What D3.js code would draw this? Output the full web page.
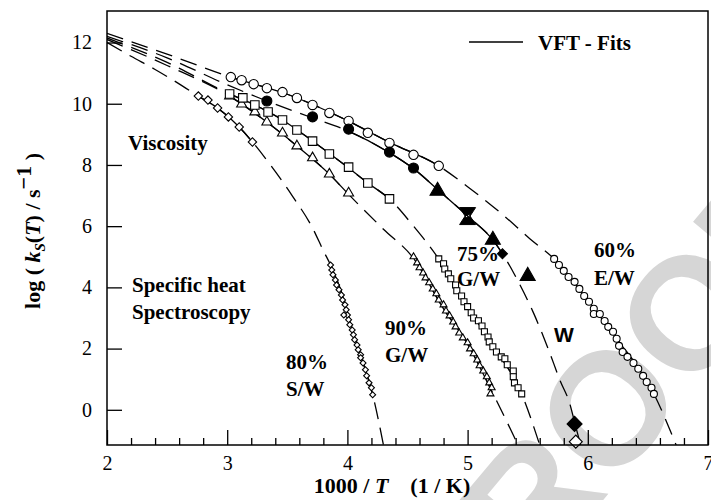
<!DOCTYPE html>
<html>
<head>
<meta charset="utf-8">
<script src="https://cdn.jsdelivr.net/npm/d3@7"></script>
<style>
  body { margin: 0; background: #fff; }
  svg text { font-family: "Liberation Serif", "Times New Roman", serif; fill: #000; }
</style>
</head>
<body>
<div id="chart"></div>
<script>
// ---- data (x = 1000/T, y = log k) ----
var xMajor = [2, 3, 4, 5, 6, 7];
var yMajor = [0, 2, 4, 6, 8, 10, 12];

// 60% E/W, open circles
var visc60 = [[3.03,10.87],[3.12,10.77],[3.22,10.64],[3.33,10.51],[3.46,10.38],[3.58,10.19],[3.71,9.96],[3.85,9.70],[4.01,9.44],[4.17,9.05],[4.35,8.72],[4.55,8.33],[4.76,7.97]];
var spec60 = [[5.72,4.93],[5.76,4.73],[5.80,4.54],[5.84,4.34],[5.89,4.18],[5.93,3.95],[5.97,3.72],[6.01,3.53],[6.05,3.30],[6.05,3.13],[6.10,3.13],[6.14,2.90],[6.17,2.71],[6.21,2.55],[6.24,2.32],[6.26,2.09],[6.29,1.89],[6.33,1.73],[6.38,1.53],[6.42,1.34],[6.46,1.11],[6.49,0.91],[6.53,0.72],[6.55,0.52]];

// water W
var viscW = [[3.33,10.09],[3.71,9.57],[4.01,9.17],[4.35,8.42],[4.55,7.90]];
var triW = [[4.75,7.15],[5.21,5.55],[5.50,4.37]];
var hourW = [[5.00,6.33]];
var diaW = [[5.29,5.10],[5.89,-0.46]];
var openDiaW = [[5.90,-1.04]];

// 75% G/W, open squares
var visc75 = [[3.02,10.32],[3.13,10.19],[3.23,9.96],[3.34,9.73],[3.46,9.47],[3.58,9.14],[3.71,8.78],[3.85,8.36],[4.01,7.93],[4.17,7.41],[4.35,6.89]];
var spec75 = [[4.76,4.93],[4.80,4.77],[4.81,4.60],[4.84,4.44],[4.86,4.28],[4.90,4.08],[4.91,3.89],[4.95,3.72],[4.97,3.53],[5.00,3.37],[5.03,3.17],[5.05,3.00],[5.09,2.91],[5.12,2.74],[5.14,2.55],[5.17,2.38],[5.18,2.22],[5.21,2.06],[5.24,1.89],[5.28,1.73],[5.31,1.67],[5.33,1.47],[5.38,1.27],[5.38,1.08],[5.39,0.88],[5.42,0.72],[5.45,0.52]];

// 90% G/W, open triangles
var visc90 = [[3.02,10.25],[3.12,9.99],[3.23,9.73],[3.33,9.40],[3.46,9.04],[3.58,8.62],[3.71,8.23],[3.85,7.70],[4.01,7.08]];
var spec90 = [[4.55,5.00],[4.58,4.80],[4.60,4.64],[4.63,4.47],[4.65,4.31],[4.68,4.15],[4.71,3.95],[4.74,3.79],[4.76,3.59],[4.80,3.43],[4.82,3.23],[4.85,3.07],[4.88,2.87],[4.90,2.71],[4.93,2.51],[4.96,2.35],[5.00,2.19],[5.02,1.99],[5.05,1.83],[5.08,1.63],[5.10,1.44],[5.13,1.27],[5.16,1.08],[5.18,0.88],[5.20,0.72],[5.19,0.52]];

// 80% S/W, open diamonds
var visc80 = [[2.76,10.25],[2.84,10.12],[2.92,9.86],[3.01,9.57],[3.10,9.24],[3.21,8.75]];
var spec80 = [[3.86,4.73],[3.87,4.57],[3.88,4.41],[3.90,4.24],[3.91,4.08],[3.93,3.92],[3.95,3.75],[3.96,3.59],[3.98,3.43],[3.99,3.27],[4.00,3.10],[3.97,3.10],[4.01,2.94],[4.02,2.78],[4.04,2.61],[4.05,2.45],[4.06,2.29],[4.08,2.12],[4.09,1.96],[4.11,1.80],[4.11,1.70],[4.13,1.53],[4.15,1.31],[4.16,1.11],[4.18,0.88],[4.20,0.72],[4.21,0.49]];

// VFT fit curves
var fit60 = [[2.0,12.3],[2.5,11.62],[3.03,10.87],[3.5,10.31],[4.0,9.45],[4.35,8.74],[4.76,7.97],[5.0,7.29],[5.3,6.35],[5.52,5.58],[5.72,4.93],[6.0,3.57],[6.25,2.28],[6.55,0.52],[6.735,-1.15]];
var fitW = [[2.0,12.2],[2.5,11.5],[3.0,10.62],[3.33,10.09],[3.7,9.55],[4.0,9.12],[4.35,8.4],[4.55,7.88],[4.75,7.2],[5.0,6.33],[5.21,5.55],[5.29,5.1],[5.42,4.2],[5.55,3.15],[5.67,2.0],[5.77,0.95],[5.85,0.2],[5.894,-0.46],[5.94,-1.15]];
var fit75 = [[2.0,12.15],[2.5,11.35],[3.02,10.32],[3.23,9.96],[3.46,9.47],[3.71,8.78],[4.0,7.93],[4.17,7.41],[4.35,6.89],[4.55,6.0],[4.76,4.93],[5.0,3.37],[5.2,2.15],[5.45,0.52],[5.6,-1.15]];
var fit90 = [[2.0,12.1],[2.5,11.25],[3.02,10.25],[3.33,9.4],[3.58,8.62],[3.85,7.7],[4.0,7.08],[4.3,5.9],[4.55,4.95],[4.8,3.3],[5.0,2.15],[5.19,0.7],[5.42,-1.15]];
var fit80 = [[2.0,12.0],[2.2,11.55],[2.4,11.12],[2.6,10.65],[2.76,10.25],[2.92,9.86],[3.1,9.24],[3.21,8.75],[3.36,8.0],[3.54,7.0],[3.71,5.94],[3.8,5.2],[3.86,4.73],[3.95,3.85],[4.05,2.5],[4.13,1.55],[4.21,0.5],[4.3,-1.15]];

// x ranges where the fit is drawn solid (rest is dashed extrapolation)
var fits = [
  { pts: fit60, solid: [[3.03,4.76],[5.72,6.55]] },
  { pts: fitW,  solid: [[4.0,5.3]] },
  { pts: fit75, solid: [[3.02,4.35],[4.76,5.45]] },
  { pts: fit90, solid: [[3.02,4.0],[4.55,5.19]] },
  { pts: fit80, solid: [[2.76,3.21],[3.86,4.21]] }
];

var width = 711, height = 500;

var svg = d3.select('#chart').append('svg')
  .attr('width', width)
  .attr('height', height);

var x = d3.scaleLinear().domain([2, 7]).range([107, 708]);
var y = d3.scaleLinear().domain([-1.15, 13.03]).range([445, 11]);

// grey watermark behind everything
svg.append('text')
  .attr('transform', 'translate(608,408) rotate(-50)')
  .attr('text-anchor', 'middle')
  .attr('dominant-baseline', 'central')
  .style('font-family', '"Liberation Sans", Arial, sans-serif')
  .style('font-weight', 'bold')
  .style('font-size', '160px')
  .style('fill', '#d6d6d6')
  .text('PROOF');

var defs = svg.append('defs');
defs.append('clipPath').attr('id', 'plotclip')
  .append('rect')
  .attr('x', x(2)).attr('y', y(13.03))
  .attr('width', x(7) - x(2)).attr('height', y(-1.15) - y(13.03));

var line = d3.line()
  .x(d => x(d[0]))
  .y(d => y(d[1]))
  .curve(d3.curveMonotoneX);

var curves = svg.append('g').attr('clip-path', 'url(#plotclip)');

fits.forEach(function(f, i) {
  // dashed everywhere
  curves.append('path')
    .datum(f.pts)
    .attr('fill', 'none')
    .attr('stroke', '#000')
    .attr('stroke-width', 1.3)
    .attr('stroke-dasharray', '17,9')
    .attr('d', line);
  // solid over the measured range
  f.solid.forEach(function(r, j) {
    var id = 'solid' + i + '_' + j;
    defs.append('clipPath').attr('id', id)
      .append('rect')
      .attr('x', x(r[0])).attr('y', 0)
      .attr('width', x(r[1]) - x(r[0])).attr('height', height);
    curves.append('path')
      .datum(f.pts)
      .attr('clip-path', 'url(#' + id + ')')
      .attr('fill', 'none')
      .attr('stroke', '#000')
      .attr('stroke-width', 1.3)
      .attr('d', line);
  });
});

// ---- markers ----
var marks = svg.append('g');

function drawSym(data, type, size, filled, rot) {
  marks.selectAll(null)
    .data(data)
    .enter().append('path')
    .attr('transform', d => 'translate(' + x(d[0]) + ',' + y(d[1]) + ')' + (rot ? ' rotate(' + rot + ')' : ''))
    .attr('d', d3.symbol().type(type).size(size))
    .attr('fill', filled ? '#000' : '#fff')
    .attr('stroke', '#000')
    .attr('stroke-width', 1.1);
}

var tri = s => s * s * Math.sqrt(3) / 4;

drawSym(visc80, d3.symbolSquare, 2 * 4.2 * 4.2, false, 45);
drawSym(spec80, d3.symbolSquare, 2 * 3 * 3, false, 45);
drawSym(visc90, d3.symbolTriangle, tri(10), false);
drawSym(spec90, d3.symbolTriangle, tri(7), false);
drawSym(visc75, d3.symbolSquare, 8.5 * 8.5, false);
drawSym(spec75, d3.symbolSquare, 6 * 6, false);
drawSym(visc60, d3.symbolCircle, Math.PI * 4.7 * 4.7, false);
drawSym(spec60, d3.symbolCircle, Math.PI * 3.5 * 3.5, false);
drawSym(viscW, d3.symbolCircle, Math.PI * 5 * 5, true);
drawSym(triW, d3.symbolTriangle, tri(15), true);
drawSym(diaW.slice(0, 1), d3.symbolSquare, 2 * 5 * 5, true, 45);
drawSym(diaW.slice(1), d3.symbolSquare, 2 * 7.5 * 7.5, true, 45);
drawSym(openDiaW, d3.symbolSquare, 2 * 6.5 * 6.5, false, 45);

// hourglass: a down and an up triangle meeting in the middle
marks.selectAll(null)
  .data(hourW)
  .enter().append('path')
  .attr('transform', d => 'translate(' + x(d[0]) + ',' + y(d[1]) + ')')
  .attr('d', 'M-8,-8.5L8,-8.5L1.5,1.5L-1.5,1.5Z M-8,8.5L8,8.5L1.5,-1.5L-1.5,-1.5Z')
  .attr('fill', '#000')
  .attr('stroke', '#000')
  .attr('stroke-width', 1);

// ---- axes and frame ----
svg.append('g')
  .attr('transform', 'translate(0,' + y(-1.15) + ')')
  .call(d3.axisBottom(x).tickValues(xMajor).tickSize(-15).tickSizeOuter(0).tickPadding(11).tickFormat(d3.format('d')));

svg.append('g')
  .attr('transform', 'translate(0,' + y(-1.15) + ')')
  .call(d3.axisBottom(x).tickValues(d3.range(2.2, 7, 0.2).filter(v => Math.abs(v - Math.round(v)) > 0.01)).tickSize(-7).tickSizeOuter(0).tickFormat(''))
  .call(g => g.select('.domain').remove());

svg.append('g')
  .attr('transform', 'translate(' + x(2) + ',0)')
  .call(d3.axisLeft(y).tickValues(yMajor).tickSize(-15).tickSizeOuter(0).tickPadding(15));

svg.selectAll('.tick line').attr('stroke', '#000').attr('stroke-width', 1.3);
svg.selectAll('.tick text').style('font-size', '20px').attr('fill', '#000');
svg.selectAll('.domain').remove();

svg.append('rect')
  .attr('x', x(2)).attr('y', y(13.03))
  .attr('width', x(7) - x(2)).attr('height', y(-1.15) - y(13.03))
  .attr('fill', 'none')
  .attr('stroke', '#000')
  .attr('stroke-width', 1.5);

// ---- legend and annotations ----
svg.append('line')
  .attr('x1', 469).attr('x2', 523).attr('y1', 42).attr('y2', 42)
  .attr('stroke', '#000').attr('stroke-width', 1.3);

function label(tx, ty, s) {
  svg.append('text')
    .attr('x', tx).attr('y', ty)
    .style('font-weight', 'bold')
    .style('font-size', '21px')
    .text(s);
}
label(538, 50, 'VFT - Fits');
label(128, 150, 'Viscosity');
label(132, 292, 'Specific heat');
label(132, 319, 'Spectroscopy');
label(286, 369, '80%');
label(286, 396, 'S/W');
label(385, 335, '90%');
label(385, 362, 'G/W');
label(457, 261, '75%');
label(457, 286, 'G/W');
label(594, 257, '60%');
label(594, 285, 'E/W');

svg.append('text')
  .attr('x', 554).attr('y', 342)
  .style('font-family', '"Liberation Sans", Arial, sans-serif')
  .style('font-weight', 'bold')
  .style('font-size', '21px')
  .text('W');

// axis titles
var xl = svg.append('text')
  .attr('x', 392).attr('y', 493)
  .attr('text-anchor', 'middle')
  .style('font-weight', 'bold')
  .style('font-size', '22px');
xl.append('tspan').text('1000 / ');
xl.append('tspan').style('font-style', 'italic').text('T');
xl.append('tspan').text('\u2003(1 / K)');

var yl = svg.append('text')
  .attr('transform', 'translate(40,231) rotate(-90)')
  .attr('text-anchor', 'middle')
  .style('font-weight', 'bold')
  .style('font-size', '22px');
yl.append('tspan').text('log ( ');
yl.append('tspan').style('font-style', 'italic').text('k');
yl.append('tspan').style('font-style', 'italic').style('font-size', '15px').attr('dy', 5).text('S');
yl.append('tspan').attr('dy', -5).text('(');
yl.append('tspan').style('font-style', 'italic').text('T');
yl.append('tspan').text(') / s');
yl.append('tspan').attr('dy', -9).text('\u22121');
yl.append('tspan').attr('dy', 9).text(' )');
</script>
</body>
</html>
